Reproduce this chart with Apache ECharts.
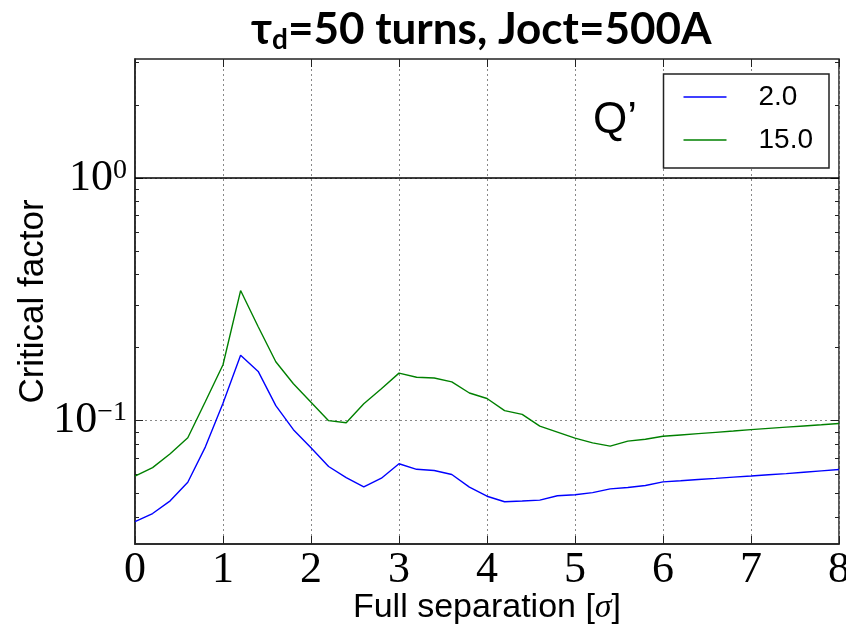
<!DOCTYPE html>
<html lang="en">

<head>
    <meta charset="UTF-8">
    <title>Critical factor</title>
    <script src="https://cdn.jsdelivr.net/npm/echarts@6/dist/echarts.min.js"></script>
    <style>
        body { margin: 0; background: #fff; }
    </style>
</head>

<body>
    <div id="main" style="width: 846px;height:626px;"></div>

    <script type="text/javascript">
        // full separation in sigma
        const separation = [0, 0.2, 0.4, 0.6, 0.8, 1.0, 1.2, 1.4, 1.6, 1.8,
            2.0, 2.2, 2.4, 2.6, 2.8, 3.0, 3.2, 3.4, 3.6, 3.8,
            4.0, 4.2, 4.4, 4.6, 4.8, 5.0, 5.2, 5.4, 5.6, 5.8,
            6.0, 6.2, 6.4, 6.6, 6.8, 7.0, 7.2, 7.4, 7.6, 7.8, 8.0];

        // Q' = 2.0
        const q2 = [0.0383, 0.0414, 0.0467, 0.0557, 0.078, 0.118, 0.186, 0.1596, 0.1153, 0.0918,
            0.0773, 0.0647, 0.0582, 0.0533, 0.0579, 0.0664, 0.0630, 0.0623, 0.0600, 0.0532,
            0.0488, 0.0463, 0.0466, 0.0470, 0.0490, 0.0495, 0.0505, 0.0523, 0.0530, 0.0540,
            0.0559, 0.0565, 0.0572, 0.0578, 0.0585, 0.0591, 0.0598, 0.0605, 0.0613, 0.0621, 0.0629];

        // Q' = 15.0
        const q15 = [0.059, 0.064, 0.073, 0.085, 0.120, 0.170, 0.344, 0.244, 0.175, 0.142,
            0.119, 0.100, 0.098, 0.1175, 0.1355, 0.157, 0.151, 0.150, 0.1446, 0.130,
            0.1234, 0.110, 0.1062, 0.095, 0.0897, 0.0847, 0.081, 0.0785, 0.0823, 0.0838,
            0.0862, 0.0873, 0.0884, 0.0895, 0.0906, 0.0918, 0.0929, 0.0940, 0.0951, 0.0962, 0.0974];

        const seriesNames = ['2.0', '15.0'];
        const yMajor = [0.1, 1];
        const yMinor = [0.04, 0.05, 0.06, 0.07, 0.08, 0.09, 0.2, 0.3, 0.4, 0.5, 0.6, 0.7, 0.8, 0.9, 2, 3];

        let myChart = echarts.init(document.getElementById('main'));

        const serif = 'Liberation Serif';
        const sans = 'Liberation Sans';

        function toPairs(ys) {
            return separation.map((x, i) => [x, ys[i]]);
        }

        // hidden overlay y axes used for tick marks only
        function tickAxis(position, values, len) {
            return {
                type: 'log', min: 0.031, max: 3.1, position: position,
                axisLine: { show: false }, splitLine: { show: false },
                axisLabel: { show: false },
                axisTick: { show: true, inside: true, length: len, customValues: values, lineStyle: { color: '#222' } }
            };
        }

        let options = {
            animation: false,
            title: {
                text: '{a|τ}{sub|d}{a|=50 turns, Joct=500A}',
                left: 246, top: 1,
                textStyle: {
                    rich: {
                        a: { fontFamily: 'Lato', fontWeight: 'bold', fontSize: 44, lineHeight: 48, color: '#000' },
                        sub: { fontFamily: 'Lato', fontWeight: 'bold', fontSize: 28, lineHeight: 16, verticalAlign: 'bottom', color: '#000' }
                    }
                }
            },
            grid: {
                left: 135, right: 7, top: 59, bottom: 82, outerBoundsMode: 'none', containLabel: false,
                show: true, borderColor: '#222', borderWidth: 1.5
            },
            legend: {
                orient: 'vertical', right: 17, top: 74,
                data: seriesNames,
                icon: 'rect',
                backgroundColor: '#fff', borderColor: '#222', borderWidth: 1.5,
                padding: [9, 16, 14, 20],
                itemWidth: 43, itemHeight: 1.5, itemGap: 15,
                textStyle: { fontFamily: sans, fontSize: 28, color: '#000', padding: [0, 0, 0, 27] }
            },
            graphic: [{
                type: 'text', left: 593, top: 99,
                style: { text: 'Q’', fontFamily: sans, fontSize: 44, fill: '#000' }
            }],
            xAxis: [{
                type: 'value', min: 0, max: 8, interval: 1,
                name: '{t|Full separation [}{s|σ}{t|]}',
                nameLocation: 'middle', nameGap: 47, nameMoveOverlap: false,
                nameTextStyle: {
                    rich: {
                        t: { fontFamily: sans, fontSize: 34, color: '#000' },
                        s: { fontFamily: serif, fontStyle: 'italic', fontSize: 34, color: '#000' }
                    }
                },
                axisLine: { lineStyle: { color: '#222', width: 1.5 } },
                axisTick: { inside: true, length: 8, lineStyle: { color: '#222' } },
                axisLabel: { fontFamily: serif, fontSize: 44, color: '#000', margin: 4 },
                splitLine: { lineStyle: { type: [2, 3], color: '#888' } }
            }, {
                type: 'value', min: 0, max: 8, interval: 1, position: 'top',
                axisLine: { show: false }, splitLine: { show: false }, axisLabel: { show: false },
                axisTick: { inside: true, length: 8, lineStyle: { color: '#222' } }
            }],
            yAxis: [{
                type: 'log', min: 0.031, max: 3.1, logBase: 10,
                name: 'Critical factor',
                nameLocation: 'middle', nameGap: 84, nameMoveOverlap: false,
                nameTextStyle: { fontFamily: sans, fontSize: 35, color: '#000' },
                axisLine: { lineStyle: { color: '#222', width: 1.5 } },
                axisTick: { inside: true, length: 8, customValues: yMajor, lineStyle: { color: '#222' } },
                axisLabel: {
                    customValues: yMajor, margin: 8,
                    formatter: v => '{b|10}{s|' + (Math.round(Math.log10(v)) === 0 ? '0' : '−1') + '}',
                    rich: {
                        b: { fontFamily: serif, fontSize: 44, color: '#000' },
                        s: { fontFamily: serif, fontSize: 28, verticalAlign: 'top', color: '#000' }
                    }
                },
                splitLine: { lineStyle: { type: [2, 3], color: '#888' } }
            },
            tickAxis('left', yMinor, 4),
            tickAxis('right', yMajor, 8),
            tickAxis('right', yMinor, 4)
            ],
            series: [{
                name: seriesNames[0], type: 'line', data: toPairs(q2),
                showSymbol: false, symbol: 'none',
                lineStyle: { color: '#0000ff', width: 1.4 }, itemStyle: { color: '#0000ff' },
                markLine: {
                    silent: true, symbol: 'none', label: { show: false },
                    lineStyle: { color: '#000', type: 'solid', width: 1.5 },
                    data: [{ yAxis: 1 }]
                }
            }, {
                name: seriesNames[1], type: 'line', data: toPairs(q15),
                showSymbol: false, symbol: 'none',
                lineStyle: { color: '#008000', width: 1.4 }, itemStyle: { color: '#008000' }
            }]
        };

        myChart.setOption(options);
    </script>
</body>

</html>
